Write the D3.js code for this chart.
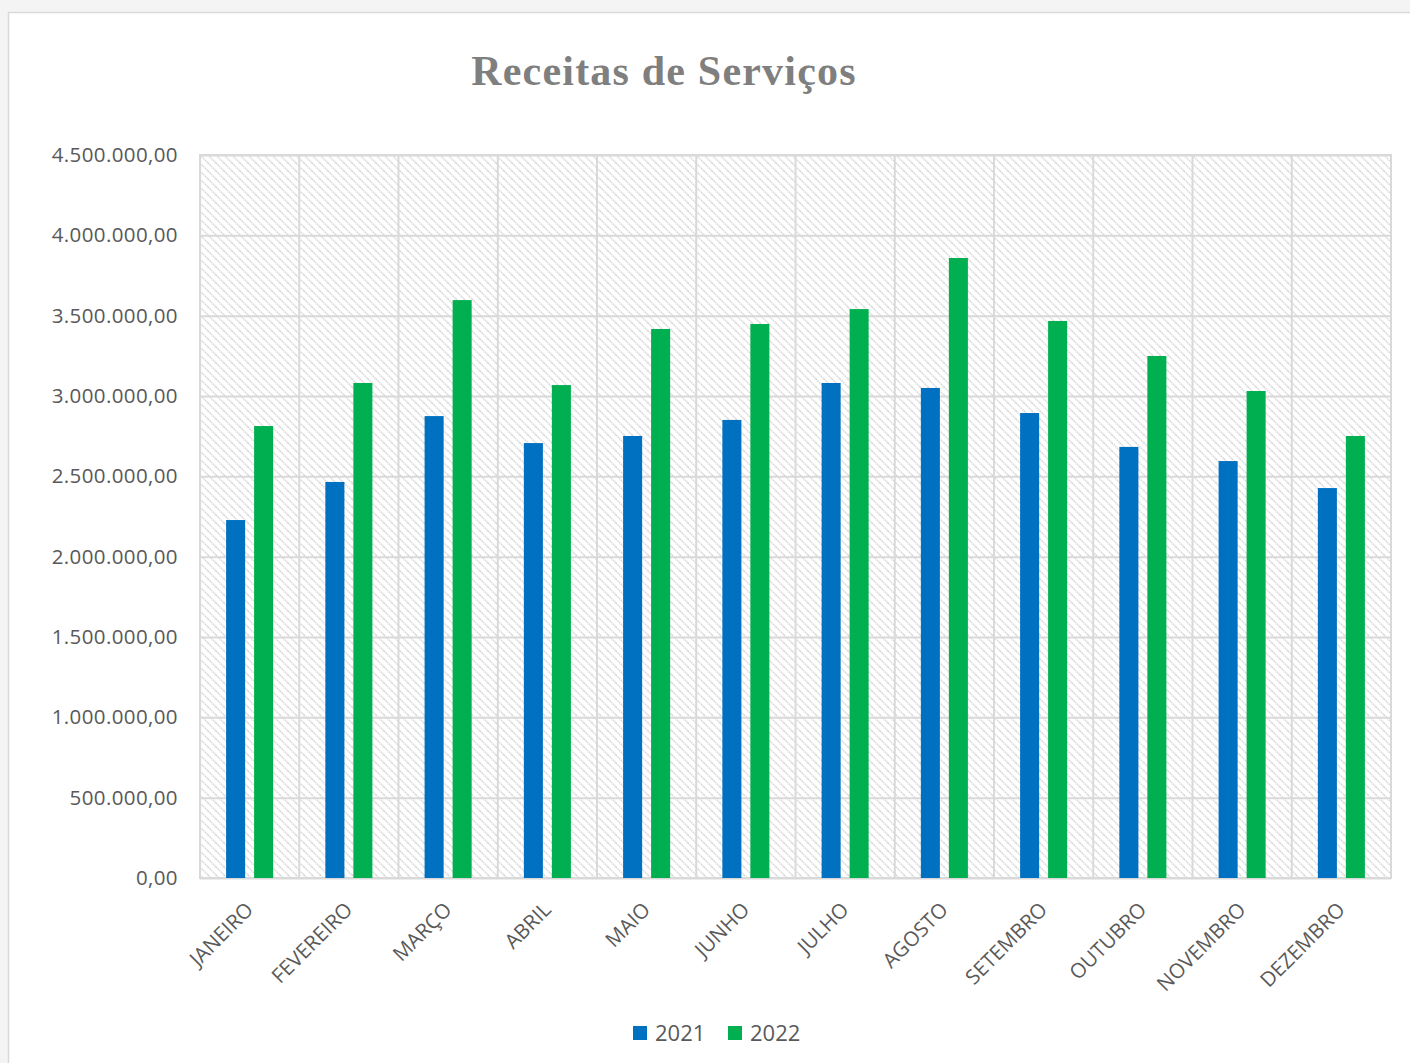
<!DOCTYPE html>
<html>
<head>
<meta charset="utf-8">
<script src="https://cdn.jsdelivr.net/npm/d3@7"></script>
<style>
  html, body { margin: 0; padding: 0; background: #f4f4f4; overflow: hidden; }
  svg { display: block; }
</style>
</head>
<body>
<svg id="chart" width="1410" height="1063"></svg>
<script>
// data
var months = ['JANEIRO', 'FEVEREIRO', 'MARÇO', 'ABRIL', 'MAIO', 'JUNHO',
              'JULHO', 'AGOSTO', 'SETEMBRO', 'OUTUBRO', 'NOVEMBRO', 'DEZEMBRO'];
var series = ['2021', '2022'];
var values2021 = [2228000, 2465000, 2875000, 2707000, 2751000, 2851000,
                  3081000, 3050000, 2894000, 2683000, 2595000, 2427000];
var values2022 = [2813000, 3081000, 3597000, 3068000, 3417000, 3448000,
                  3541000, 3859000, 3467000, 3249000, 3031000, 2751000];
var yTicks = [0, 500000, 1000000, 1500000, 2000000, 2500000, 3000000, 3500000, 4000000, 4500000];
var colors = ['#0070c0', '#00b050'];

var svg = d3.select('#chart');

var margin = {top: 155, left: 200, right: 19, bottom: 185};
var width = 1410 - margin.left - margin.right,
    height = 1063 - margin.top - margin.bottom;

// chart frame
svg.append('rect')
    .attr('x', 8.5).attr('y', 12.5)
    .attr('width', 1500).attr('height', 1200)
    .attr('fill', '#fff')
    .attr('stroke', '#d9d9d9')
    .attr('stroke-width', 1.5);

// hatch fill
var defs = svg.append('defs');
var pat = defs.append('pattern')
    .attr('id', 'hatch')
    .attr('patternUnits', 'userSpaceOnUse')
    .attr('width', 8).attr('height', 8);
pat.append('path')
    .attr('d', 'M0,0 L8,8 M-2,6 L2,10 M6,-2 L10,2')
    .attr('stroke', '#d6d6d6')
    .attr('stroke-width', 1.6)
    .attr('stroke-dasharray', '1.4,0.9');

var g = svg.append('g').attr('transform', 'translate(' + margin.left + ',' + margin.top + ')');

var x0 = d3.scaleBand().domain(months).range([0, width]).paddingInner(0).paddingOuter(0);
var x1 = d3.scaleBand().domain(series)
    .range([x0.bandwidth() * 0.263, x0.bandwidth() * 0.737])
    .paddingInner(0.32).paddingOuter(0);
var y = d3.scaleLinear().domain([0, 4500000]).range([height, 0]);

g.append('rect')
    .attr('width', width).attr('height', height)
    .attr('fill', 'url(#hatch)');

// grid
var fmt = function (v) {
    var s = d3.format(',.2f')(v);
    return s.replace(/,/g, '#').replace('.', ',').replace(/#/g, '.');
};

g.append('g')
    .call(d3.axisLeft(y).tickValues(yTicks).tickSize(-width).tickFormat(fmt).tickPadding(22))
    .call(function (a) {
        a.select('.domain').remove();
        a.selectAll('line').attr('stroke', '#d9d9d9').attr('stroke-width', 2);
        a.selectAll('text')
            .attr('fill', '#595959')
            .attr('font-family', 'Open Sans, sans-serif')
            .attr('font-size', 20.5)
            .attr('letter-spacing', 0.4);
    });

g.append('g')
    .selectAll('line')
    .data(months.slice(1))
    .enter().append('line')
    .attr('x1', function (d) { return x0(d); })
    .attr('x2', function (d) { return x0(d); })
    .attr('y1', 0).attr('y2', height)
    .attr('stroke', '#d9d9d9').attr('stroke-width', 2);

g.append('rect')
    .attr('width', width).attr('height', height)
    .attr('fill', 'none')
    .attr('stroke', '#d9d9d9').attr('stroke-width', 2);

// bars
var rows = months.map(function (m, i) {
    return {month: m, vals: [{s: '2021', v: values2021[i], c: colors[0]}, {s: '2022', v: values2022[i], c: colors[1]}]};
});

g.selectAll('.grp')
    .data(rows)
    .enter().append('g')
    .attr('transform', function (d) { return 'translate(' + x0(d.month) + ',0)'; })
    .selectAll('rect')
    .data(function (d) { return d.vals; })
    .enter().append('rect')
    .attr('x', function (d) { return x1(d.s); })
    .attr('y', function (d) { return y(d.v); })
    .attr('width', x1.bandwidth())
    .attr('height', function (d) { return height - y(d.v); })
    .attr('fill', function (d) { return d.c; });

// x labels
g.append('g')
    .attr('transform', 'translate(0,' + height + ')')
    .call(d3.axisBottom(x0).tickSize(0).tickPadding(0))
    .call(function (a) {
        a.select('.domain').remove();
        a.selectAll('text')
            .attr('fill', '#595959')
            .attr('font-family', 'Open Sans, sans-serif')
            .attr('font-size', 20.5)
            .attr('text-anchor', 'end')
            .attr('dy', 0)
            .attr('transform', 'translate(5,33) rotate(-45)');
    });

// title
svg.append('text')
    .attr('x', 664).attr('y', 85)
    .attr('text-anchor', 'middle')
    .attr('font-family', 'Liberation Serif, serif')
    .attr('font-weight', 'bold')
    .attr('font-size', 42)
    .attr('letter-spacing', 1.2)
    .attr('fill', '#7f7f7f')
    .text('Receitas de Serviços');

// legend
var legend = svg.append('g').attr('transform', 'translate(633,1026)');
var items = legend.selectAll('g')
    .data(series)
    .enter().append('g')
    .attr('transform', function (d, i) { return 'translate(' + (i * 95) + ',0)'; });
items.append('rect')
    .attr('width', 14).attr('height', 14)
    .attr('fill', function (d, i) { return colors[i]; });
items.append('text')
    .attr('x', 22).attr('y', 15)
    .attr('fill', '#595959')
    .attr('font-family', 'Open Sans, sans-serif')
    .attr('font-size', 22)
    .text(function (d) { return d; });
</script>
</body>
</html>
